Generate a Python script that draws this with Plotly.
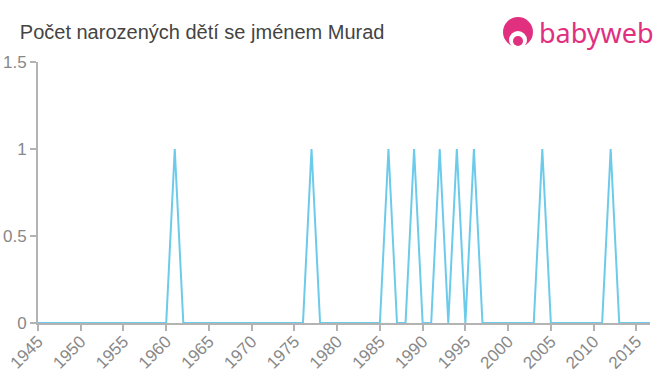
import plotly.graph_objects as go

years = list(range(1945, 2018))
peak_years = [1961, 1977, 1986, 1989, 1992, 1994, 1996, 2004, 2012]
counts = [1 if y in peak_years else 0 for y in years]

x_ticks = list(range(1945, 2020, 5))
y_ticks = [0, 0.5, 1, 1.5]
y_labels = ["0", "0.5", "1", "1.5"]

fig = go.Figure()
fig.add_trace(go.Scatter(
    x=years, y=counts, mode="lines",
    line=dict(color="#6ccbea", width=2),
    hoverinfo="x+y", showlegend=False,
))

fig.update_layout(
    width=660, height=375,
    margin=dict(l=38, r=10, t=62, b=52, autoexpand=False),
    plot_bgcolor="white", paper_bgcolor="white",
    font=dict(family="Liberation Sans, Arial, sans-serif", color="#888888"),
    title=dict(text="Počet narozených dětí se jménem Murad", x=0.03, xanchor="left",
               y=0.915, yanchor="middle",
               font=dict(size=20, color="#444444")),
)
fig.update_xaxes(
    range=[1945, 2016.6], tickvals=x_ticks, ticktext=[str(t) for t in x_ticks],
    tickangle=-45, showgrid=False, zeroline=False, automargin=False,
    showline=True, linecolor="#b3b3b3", linewidth=2,
    ticks="outside", ticklen=6, tickcolor="#b3b3b3", tickwidth=2,
    tickfont=dict(size=17, color="#888888"),
    ticklabelstandoff=-6,
)
fig.update_yaxes(
    range=[0, 1.5], tickvals=y_ticks, ticktext=y_labels,
    showgrid=False, zeroline=False, automargin=False,
    showline=True, linecolor="#b3b3b3", linewidth=2,
    ticks="outside", ticklen=6, tickcolor="#b3b3b3", tickwidth=2,
    tickfont=dict(size=17, color="#888888"),
)

def px_x(p):
    return (p - 38) / 612

def px_y(p):
    return (323 - p) / 261

# babyweb logo
fig.add_shape(type="circle", xref="paper", yref="paper",
              x0=px_x(503), x1=px_x(533), y0=px_y(47), y1=px_y(17),
              fillcolor="#e0307f", line=dict(width=0), layer="above")
fig.add_shape(type="circle", xref="paper", yref="paper",
              x0=px_x(509), x1=px_x(527), y0=px_y(49), y1=px_y(31),
              fillcolor="white", line=dict(width=0), layer="above")
fig.add_shape(type="circle", xref="paper", yref="paper",
              x0=px_x(513), x1=px_x(523), y0=px_y(46), y1=px_y(36),
              fillcolor="#e0307f", line=dict(width=0), layer="above")
fig.add_annotation(text="babyweb", xref="paper", yref="paper",
                   x=px_x(537), y=px_y(33), xanchor="left", yanchor="middle",
                   showarrow=False,
                   font=dict(size=27, color="#e0307f", family="Noto Sans, Arial, sans-serif"))

fig.write_html("out.html")
